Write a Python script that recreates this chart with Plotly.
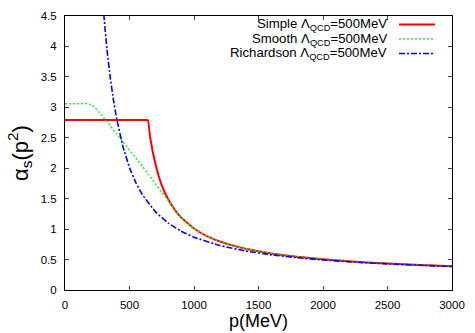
import plotly.graph_objects as go

# values
simple_p = [0, 200, 400, 600, 642, 660, 680, 700, 725, 750, 800, 850, 900, 1000,
            1100, 1200, 1300, 1400, 1600, 1800, 2000, 2250, 2500, 2750, 3000]
simple_a = [2.79, 2.79, 2.79, 2.79, 2.79, 2.51, 2.27, 2.08, 1.88, 1.72, 1.49, 1.32, 1.19, 1.01,
            0.885, 0.797, 0.731, 0.678, 0.600, 0.545, 0.504, 0.464, 0.434, 0.410, 0.390]

smooth_p = [0, 100, 180, 220, 260, 300, 350, 400, 450, 500, 550, 600, 650, 700, 750, 800, 850,
            900, 1000, 1100, 1200, 1300, 1400, 1600, 1800, 2000, 2250, 2500, 2750, 3000]
smooth_a = [3.06, 3.06, 3.06, 3.02, 2.93, 2.83, 2.70, 2.56, 2.43, 2.30, 2.17, 2.03, 1.89, 1.75,
            1.61, 1.47, 1.32, 1.19, 1.01, 0.885, 0.797, 0.731, 0.678, 0.600, 0.545, 0.504,
            0.464, 0.434, 0.410, 0.390]

rich_p = [280, 300, 325, 350, 375, 400, 450, 500, 550, 600, 700, 800, 900, 1000,
          1200, 1400, 1600, 1800, 2000, 2250, 2500, 2750, 3000]
rich_a = [5.12, 4.54, 3.96, 3.50, 3.13, 2.82, 2.35, 2.01, 1.76, 1.565, 1.287, 1.10, 0.967, 0.868,
          0.731, 0.641, 0.577, 0.530, 0.493, 0.457, 0.429, 0.406, 0.387]

labels = ["Simple Λ<sub>QCD</sub>=500MeV",
          "Smooth Λ<sub>QCD</sub>=500MeV",
          "Richardson Λ<sub>QCD</sub>=500MeV"]
colors = ["#ff0000", "#22ee22", "#0000ff"]
dashes = ["solid", "2px,2px", "6px,2px,2px,2px"]
widths = [2, 1.5, 1.6]

x_ticks = [0, 500, 1000, 1500, 2000, 2500, 3000]
y_ticks = [0, 0.5, 1, 1.5, 2, 2.5, 3, 3.5, 4, 4.5]
y_labels = ["0", "0.5", "1", "1.5", "2", "2.5", "3", "3.5", "4", "4.5"]

fig = go.Figure()
for (px_, a), name, c, d, w in zip([(simple_p, simple_a), (smooth_p, smooth_a), (rich_p, rich_a)],
                                   labels, colors, dashes, widths):
    fig.add_trace(go.Scatter(x=px_, y=a, mode="lines", name=name, showlegend=False,
                             line=dict(color=c, dash=d, width=w, shape="spline", smoothing=0.3)))

# gnuplot-style key: text right-aligned, sample line on the right
rows = [0.969, 0.916, 0.863]
for name, c, d, w, yy in zip(labels, colors, dashes, widths, rows):
    fig.add_annotation(x=0.837, y=yy, xref="paper", yref="paper", text=name,
                       showarrow=False, xanchor="right", yanchor="middle",
                       font=dict(size=13.2, color="black"))
    fig.add_shape(type="line", xref="paper", yref="paper", x0=0.863, x1=0.956, y0=yy, y1=yy,
                  line=dict(color=c, dash=d, width=w))

fig.update_layout(
    width=475, height=333,
    margin=dict(l=65, r=23, t=16, b=43, autoexpand=False),
    plot_bgcolor="white", paper_bgcolor="white",
    font=dict(family="Liberation Sans, Arial, sans-serif", color="black", size=11.5),
)
fig.update_xaxes(range=[0, 3000], tickvals=x_ticks, ticks="inside", ticklen=4,
                 showline=True, linecolor="black", linewidth=1, mirror="allticks",
                 showgrid=False, zeroline=False, ticklabelstandoff=4,
                 title=dict(text="p(MeV)", font=dict(size=18), standoff=0))
fig.update_yaxes(range=[0, 4.5], tickvals=y_ticks, ticktext=y_labels, ticks="inside", ticklen=4,
                 showline=True, linecolor="black", linewidth=1, mirror="allticks",
                 showgrid=False, zeroline=False, ticklabelstandoff=5,
                 title=dict(text="α<sub>s</sub>(p<sup>2</sup>)", font=dict(size=22), standoff=6))

# drop the browser's default page margin so the figure sits at (0, 0)
fig.write_html("out.html", config={"displayModeBar": False},
               post_script="document.body.style.margin='0';")
